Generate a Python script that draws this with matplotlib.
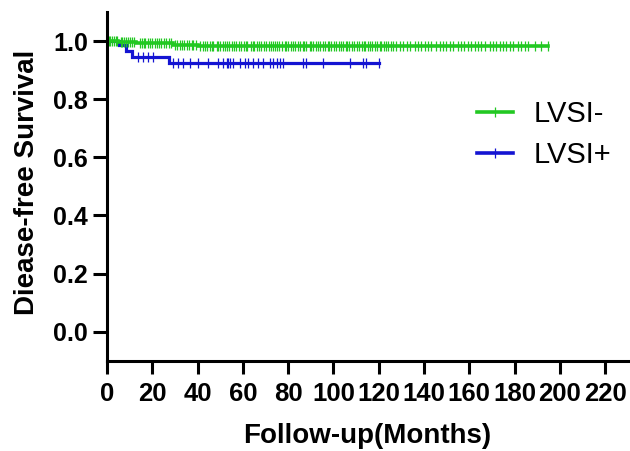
import numpy as np
import matplotlib
matplotlib.use("Agg")
import matplotlib.pyplot as plt
from matplotlib.lines import Line2D

plt.rcParams['font.family'] = ['Liberation Sans', 'DejaVu Sans']

# ---- data ----
group_labels = ["LVSI-", "LVSI+"]

neg_times = [0, 5, 13, 29, 40, 195]
neg_surv = [1.0, 0.996, 0.992, 0.987, 0.982, 0.982]
neg_censor = [0.8, 1.5, 2.2, 3.0, 3.8, 4.5, 6.0, 6.8, 7.5, 8.3, 9.2, 10.0, 11.0, 12.0,
              14.5, 15.3, 16.2, 17.0, 18.1, 19.0, 20.0, 21.2, 22.0, 23.1, 24.0, 25.2,
              26.0, 27.3, 28.2, 30.0, 31.0, 32.1, 33.3, 34.0, 35.2, 36.1, 37.4, 38.2,
              39.3, 41.0, 42.2, 43.1, 44.0, 45.3, 46.2, 47.0, 48.4, 49.2, 50.1, 51.3,
              52.0, 53.2, 54.1, 55.4, 56.2, 57.0, 58.3, 59.1, 60.4, 61.2, 62.0, 63.5,
              64.3, 65.1, 66.4, 67.2, 68.0, 69.3, 70.2, 71.5, 72.3, 73.1, 74.4, 75.2,
              76.0, 77.3, 78.5, 79.2, 80.1, 81.4, 82.2, 83.0, 84.3, 85.1, 86.4, 87.2,
              88.1, 89.5, 90.3, 91.1, 92.4, 93.2, 94.0, 95.3, 96.1, 97.4, 98.2, 99.0,
              100.3, 101.2, 102.5, 103.3, 104.1, 105.4, 106.2, 107.0, 108.3, 109.1,
              110.4, 111.2, 112.5, 113.3, 114.1, 115.4, 116.2, 117.0, 118.3, 119.1,
              120.4, 121.2, 122.5, 123.3, 124.1, 125.4, 126.2,
              127.8, 129.3, 130.6, 132.3, 133.7, 135.9, 137.2, 138.9, 140.3, 141.7,
              143.3, 145.5, 147.0, 148.3, 149.9, 151.4, 152.7, 154.9, 156.5, 157.9,
              159.3, 160.9, 162.4, 163.7, 165.4, 166.8, 169.0, 170.3, 172.0, 173.4,
              174.8, 176.4, 177.8, 179.2, 181.4, 183.0, 184.5, 185.8, 188.9, 191.8,
              194.7]

pos_times = [0, 5.3, 8.4, 10.9, 27.4, 120.2]
pos_surv = [1.0, 0.986, 0.966, 0.944, 0.923, 0.923]
pos_censor = [13.8, 16.0, 18.2, 20.4, 29.3, 31.5, 33.7, 36.6, 40.3, 44.7, 49.1,
              51.3, 52.8, 53.5, 54.3, 55.7, 58.7, 60.9, 62.4, 64.6, 66.8, 69.0,
              71.9, 73.4, 74.9, 76.3, 77.8, 86.6, 88.1, 95.5, 107.2, 113.1, 114.6,
              120.2]

x_ticks = [0, 20, 40, 60, 80, 100, 120, 140, 160, 180, 200, 220]
y_ticks = [0.0, 0.2, 0.4, 0.6, 0.8, 1.0]

colors = ["#22c822", "#1414d2"]

# ---- figure ----
fig = plt.figure(figsize=(6.30, 4.51), dpi=100)
ax = fig.add_axes([107 / 630, (451 - 360.7) / 451, 523 / 630, 348.7 / 451])


def surv_at(times, surv, t):
    idx = np.searchsorted(np.asarray(times), np.asarray(t), side='right') - 1
    return np.asarray(surv)[idx]


series = [(neg_times, neg_surv, neg_censor, colors[0], 2.6),
          (pos_times, pos_surv, pos_censor, colors[1], 2.3)]

# draw LVSI+ first, LVSI- on top
for times, surv, cens, col, lw in series[::-1]:
    ax.step(times, surv, where='post', color=col, lw=lw, solid_joinstyle='miter')
    ax.plot(cens, surv_at(times, surv, cens), ls='none', marker='|',
            markersize=7, markeredgewidth=0.9, color=col)

ax.set_xlim(0, 231)
ax.set_ylim(-0.1, 1.1)
ax.set_xticks(x_ticks)
ax.set_xticklabels([str(v) for v in x_ticks])
ax.set_yticks(y_ticks)
ax.set_yticklabels([f"{v:.1f}" for v in y_ticks])

for s in ["top", "right"]:
    ax.spines[s].set_visible(False)
for s in ["left", "bottom"]:
    ax.spines[s].set_linewidth(2.2)

ax.tick_params(axis='y', length=10, width=2.2, pad=3.5, labelsize=18)
ax.tick_params(axis='x', length=9.5, width=2.2, pad=6.0, labelsize=18.5)
for lab in ax.get_xticklabels() + ax.get_yticklabels():
    lab.set_fontweight('bold')

ax.set_ylabel("Diease-free Survival", fontsize=20, fontweight='bold', va='center')
ax.yaxis.set_label_coords(-0.153, 0.51)
ax.set_xlabel("Follow-up(Months)", fontsize=20, fontweight='bold', va='baseline')
ax.xaxis.set_label_coords(0.497, -0.236)

handles = [Line2D([], [], color=colors[0], lw=2.6, marker='|', markersize=7,
                  markeredgewidth=0.9),
           Line2D([], [], color=colors[1], lw=2.6, marker='|', markersize=7,
                  markeredgewidth=0.9)]
ax.legend(handles, group_labels, loc='upper left',
          bbox_to_anchor=(477 / 630, (451 - 100) / 451),
          bbox_transform=fig.transFigure, frameon=False, fontsize=21,
          handlelength=1.25, handletextpad=0.7, labelspacing=0.45,
          borderpad=0, borderaxespad=0, numpoints=1)

fig.savefig("out.png", dpi=100)
